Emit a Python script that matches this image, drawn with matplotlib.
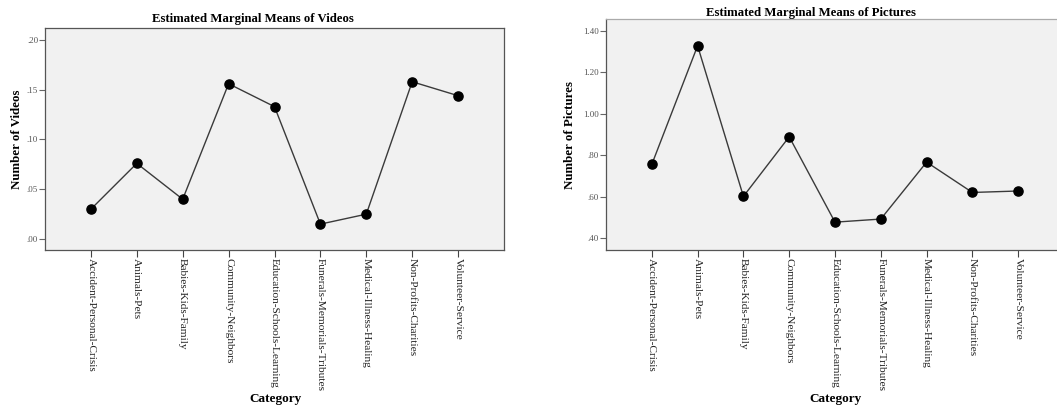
import matplotlib
matplotlib.use("Agg")
import matplotlib.pyplot as plt

plt.rcParams['font.family'] = ['Liberation Serif', 'DejaVu Serif']

categories = [
    "Accident-Personal-Crisis", "Animals-Pets", "Babies-Kids-Family",
    "Community-Neighbors", "Education-Schools-Learning", "Funerals-Memorials-Tributes",
    "Medical-Illness-Healing", "Non-Profits-Charities", "Volunteer-Service",
]
videos = [0.030, 0.076, 0.040, 0.156, 0.133, 0.015, 0.025, 0.158, 0.144]
pictures = [0.756, 1.327, 0.602, 0.889, 0.478, 0.493, 0.767, 0.621, 0.628]

video_ticks = [0.00, 0.05, 0.10, 0.15, 0.20]
video_tick_labels = [".00", ".05", ".10", ".15", ".20"]
picture_ticks = [0.40, 0.60, 0.80, 1.00, 1.20, 1.40]
picture_tick_labels = [".40", ".60", ".80", "1.00", "1.20", "1.40"]

W, H = 1057, 407
fig = plt.figure(figsize=(W / 100, H / 100), dpi=100)


def px_axes(x0, y0, x1, y1):
    return fig.add_axes([x0 / W, 1 - y1 / H, (x1 - x0) / W, (y1 - y0) / H])


def fig_text(x, y, s, **kw):
    fig.text(x / W, 1 - y / H, s, ha="center", va="center",
             fontweight="bold", **kw)


def draw_panel(ax, values, yticks, ylabels, ylim, top_color):
    x = list(range(len(categories)))
    ax.set_facecolor("#f1f1f1")
    ax.plot(x, values, color="#3a3a3a", linewidth=1.0, marker="o",
            markersize=6.6, markerfacecolor="black", markeredgecolor="black",
            zorder=3)
    ax.set_xlim(-1, 9)
    ax.set_ylim(*ylim)
    ax.set_xticks(x)
    ax.set_xticklabels(categories, rotation=-90, fontsize=8.2, color="#222222",
                       va="top", ha="center")
    ax.set_yticks(yticks)
    ax.set_yticklabels(ylabels, fontsize=6.5, color="#555555")
    ax.tick_params(axis="x", direction="out", length=5, width=0.8,
                   color="#444444", pad=1)
    ax.tick_params(axis="y", direction="out", length=4, width=0.8,
                   color="#666666", pad=1)
    for side in ("left", "bottom", "right"):
        ax.spines[side].set_color("#555555")
        ax.spines[side].set_linewidth(0.9)
    ax.spines["top"].set_color(top_color)
    ax.spines["top"].set_linewidth(0.9)


ax1 = px_axes(45, 28, 504, 250)
draw_panel(ax1, videos, video_ticks, video_tick_labels, (-0.011, 0.212),
           "#555555")
fig_text(253, 19, "Estimated Marginal Means of Videos", fontsize=9.2)
fig_text(17, 139, "Number of Videos", fontsize=9.3, rotation=90)
fig_text(276, 399, "Category", fontsize=9.5)

ax2 = px_axes(606, 19, 1064, 250)
draw_panel(ax2, pictures, picture_ticks, picture_tick_labels, (0.344, 1.456),
           "#aaaaaa")
fig_text(811, 13, "Estimated Marginal Means of Pictures", fontsize=9.2)
fig_text(570, 135, "Number of Pictures", fontsize=9.3, rotation=90)
fig_text(836, 399, "Category", fontsize=9.5)

fig.savefig("out.png", dpi=100, facecolor="white")
